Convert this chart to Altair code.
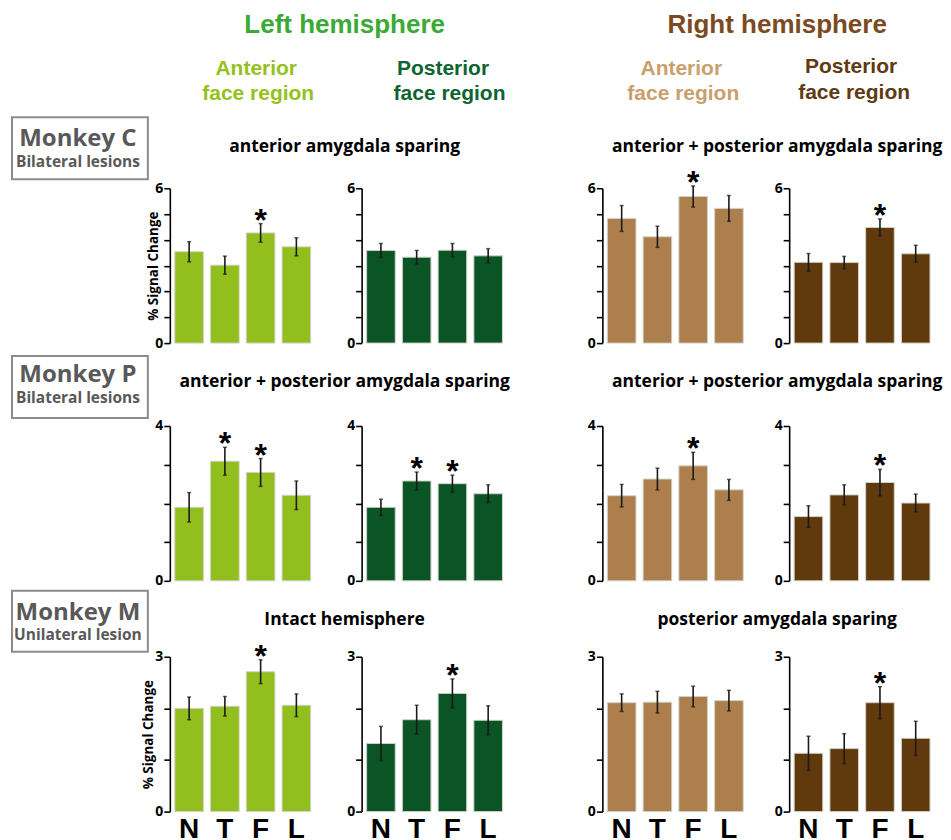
import altair as alt
import pandas as pd

CATS = ["N", "T", "F", "L"]

# rows: Monkey C, Monkey P, Monkey M ; panels: L-anterior, L-posterior, R-anterior, R-posterior
MEAN_C = [[3.54, 3.02, 4.27, 3.73], [3.59, 3.33, 3.60, 3.38], [4.83, 4.12, 5.68, 5.22], [3.13, 3.12, 4.48, 3.46]]
SEM_C = [[0.39, 0.35, 0.36, 0.35], [0.27, 0.26, 0.26, 0.28], [0.50, 0.41, 0.41, 0.50], [0.34, 0.24, 0.33, 0.33]]
STAR_C = [["", "", "*", ""], ["", "", "", ""], ["", "", "*", ""], ["", "", "*", ""]]

MEAN_P = [[1.90, 3.09, 2.80, 2.21], [1.90, 2.58, 2.51, 2.25], [2.20, 2.63, 2.97, 2.35], [1.66, 2.22, 2.54, 2.01]]
SEM_P = [[0.38, 0.36, 0.36, 0.37], [0.21, 0.23, 0.22, 0.23], [0.29, 0.28, 0.35, 0.27], [0.28, 0.26, 0.34, 0.23]]
STAR_P = [["", "*", "*", ""], ["", "*", "*", ""], ["", "", "*", ""], ["", "", "*", ""]]

MEAN_M = [[2.00, 2.04, 2.71, 2.06], [1.32, 1.78, 2.29, 1.77], [2.11, 2.12, 2.23, 2.15], [1.13, 1.22, 2.11, 1.42]]
SEM_M = [[0.22, 0.19, 0.23, 0.22], [0.33, 0.28, 0.28, 0.28], [0.17, 0.21, 0.20, 0.20], [0.33, 0.29, 0.31, 0.33]]
STAR_M = [["", "", "*", ""], ["", "", "*", ""], ["", "", "", ""], ["", "", "*", ""]]

Y_MAX = [6, 4, 3]
MONKEYS = ["Monkey C", "Monkey P", "Monkey M"]
LESIONS = ["Bilateral lesions", "Bilateral lesions", "Unilateral lesion"]
LEFT_TITLES = ["anterior amygdala sparing", "anterior + posterior amygdala sparing", "Intact hemisphere"]
RIGHT_TITLES = ["anterior + posterior amygdala sparing", "anterior + posterior amygdala sparing",
                "posterior amygdala sparing"]
HEMIS = ["Left hemisphere", "Right hemisphere"]
REGION_1 = ["Anterior", "Posterior", "Anterior", "Posterior"]
REGION_2 = ["face region", "face region", "face region", "face region"]

MEANS = [MEAN_C, MEAN_P, MEAN_M]
SEMS = [SEM_C, SEM_P, SEM_M]
STARS = [STAR_C, STAR_P, STAR_M]

BAR_COLORS = ["#92BE1E", "#0A5425", "#AD7F4C", "#603A0C"]
HEAD_COLORS = ["#3AAA35", "#7B4A22"]
REGION_COLORS = ["#95C11C", "#0D6430", "#C9A06C", "#603A10"]

SANS = "Open Sans"
HEAD = "Liberation Sans"
W, H = 146, 155
SPACERS = [46, 95, 41]
ROW_GAPS = [83, 76]
ONE = pd.DataFrame({"k": [0]})


def label(x, y, t, size, color, font=SANS, weight="bold"):
    return alt.Chart(ONE).mark_text(
        text=t, fontSize=size, color=color, font=font, fontWeight=weight,
        align="center", baseline="alphabetic"
    ).encode(x=alt.value(x), y=alt.value(y))


def box(x1, x2, y1, y2):
    return alt.Chart(ONE).mark_rect(
        fill="white", fillOpacity=0, stroke="#8C8C8C", strokeWidth=2
    ).encode(x=alt.value(x1), x2=alt.value(x2), y=alt.value(y1), y2=alt.value(y2))


# monkey box geometry relative to row's first panel
BOX_Y = [(-71, -9, -42, -21), (-70, -8, -44, -23), (-66, -5, -37, -17)]
TITLE_Y = [-36, -39, -32]
YTITLE_X = [-12, None, -17]


def panel(r, c):
    means = MEANS[r][c]
    sems = SEMS[r][c]
    df = pd.DataFrame({
        "cat": CATS,
        "mean": means,
        "lo": [m - e for m, e in zip(means, sems)],
        "hi": [m + e for m, e in zip(means, sems)],
        "star": STARS[r][c],
    })
    ymax = Y_MAX[r]
    if r == 2:
        xaxis = alt.Axis(title=None, domain=False, ticks=False, tickSize=0, labelAngle=0,
                         labelFont=HEAD, labelFontSize=28, labelFontWeight="bold",
                         labelColor="black", labelPadding=4)
    else:
        xaxis = None
    x = alt.X("cat:N", sort=CATS, axis=xaxis,
              scale=alt.Scale(paddingInner=0.2, paddingOuter=0.14))
    kw = dict(values=list(range(ymax + 1)),
              labelExpr=f"datum.value == 0 || datum.value == {ymax} ? datum.label : ''",
              grid=False, domainColor="black", domainWidth=1.6, tickColor="black",
              tickWidth=1.6, tickSize=6, labelFont=SANS, labelFontWeight="bold",
              labelFontSize=14, labelColor="black", labelPadding=1, labelFlush=False)
    if c == 0 and YTITLE_X[r] is not None:
        yaxis = alt.Axis(title="% Signal Change", titleFont=SANS, titleFontWeight="bold",
                         titleFontSize=13.5, titleColor="black", titleX=YTITLE_X[r],
                         titleY=H / 2, titleAngle=270, titleAlign="center",
                         titleBaseline="alphabetic", **kw)
    else:
        yaxis = alt.Axis(title=None, **kw)
    ys = alt.Scale(domain=[0, ymax], nice=False)
    base = alt.Chart(df)
    bars = base.mark_bar(color=BAR_COLORS[c], stroke="#D2D2CA", strokeWidth=1).encode(
        x=x, y=alt.Y("mean:Q", scale=ys, axis=yaxis))
    rule = base.mark_rule(color="#1A1A1A", strokeWidth=1.6).encode(
        x=x, y=alt.Y("lo:Q", scale=ys, axis=yaxis), y2="hi:Q")
    cap_lo = base.mark_tick(color="#1A1A1A", size=4, thickness=1.5).encode(
        x=x, y=alt.Y("lo:Q", scale=ys, axis=yaxis))
    cap_hi = base.mark_tick(color="#1A1A1A", size=4, thickness=1.5).encode(
        x=x, y=alt.Y("hi:Q", scale=ys, axis=yaxis))
    stars = base.mark_text(font=HEAD, fontSize=32, fontWeight="bold", color="black",
                           baseline="alphabetic", dy=7).encode(
        x=x, y=alt.Y("hi:Q", scale=ys, axis=yaxis), text="star:N")
    layers = [bars, rule, cap_lo, cap_hi, stars]

    if c == 0:
        y1, y2, ym, yl = BOX_Y[r]
        layers += [box(-158, -22, y1, y2),
                   label(-92, ym, MONKEYS[r], 24, "#595959"),
                   label(-92, yl, LESIONS[r], 15.5, "#595959"),
                   label(175, TITLE_Y[r], LEFT_TITLES[r], 17.5, "black")]
    if c == 2:
        layers += [label(175, TITLE_Y[r], RIGHT_TITLES[r], 17.5, "black")]
    if r == 0 and c == 0:
        anchor = alt.Chart(ONE).mark_rect(fill="white").encode(
            x=alt.value(-162), x2=alt.value(-161), y=alt.value(-180), y2=alt.value(-179))
        layers = [anchor] + layers
        layers += [label(175, -155, HEMIS[0], 26, HEAD_COLORS[0], font=HEAD),
                   label(608, -155, HEMIS[1], 26, HEAD_COLORS[1], font=HEAD)]
        reg_x1 = [86.5, 273.5, 512, 682]
        reg_x2 = [88.5, 280, 514, 685]
        reg_y1 = [-113, -113, -113, -115]
        reg_y2 = [-88, -88, -88, -89]
        for i in range(4):
            layers += [label(reg_x1[i], reg_y1[i], REGION_1[i], 21, REGION_COLORS[i], font=HEAD),
                       label(reg_x2[i], reg_y2[i], REGION_2[i], 21, REGION_COLORS[i], font=HEAD)]
    return alt.layer(*layers).properties(width=W, height=H)


def spacer(w, h):
    return alt.Chart(ONE).mark_text(text="").encode(
        x=alt.value(0), y=alt.value(0)).properties(width=w, height=h)


cells = []
for r in range(3):
    for c in range(4):
        cells.append(panel(r, c))
        if c < 3:
            cells.append(spacer(SPACERS[c], H))
    if r < 2:
        for k in range(7):
            cells.append(spacer(W if k % 2 == 0 else SPACERS[k // 2], ROW_GAPS[r]))

chart = alt.concat(
    *cells, columns=7, spacing={"row": 0, "column": 0}, bounds="flush", align="each"
).properties(
    padding={"left": 0, "top": 0, "right": 0, "bottom": 0}
).configure_view(stroke=None)

chart.save("out.html", embed_options={"renderer": "svg", "actions": False})
